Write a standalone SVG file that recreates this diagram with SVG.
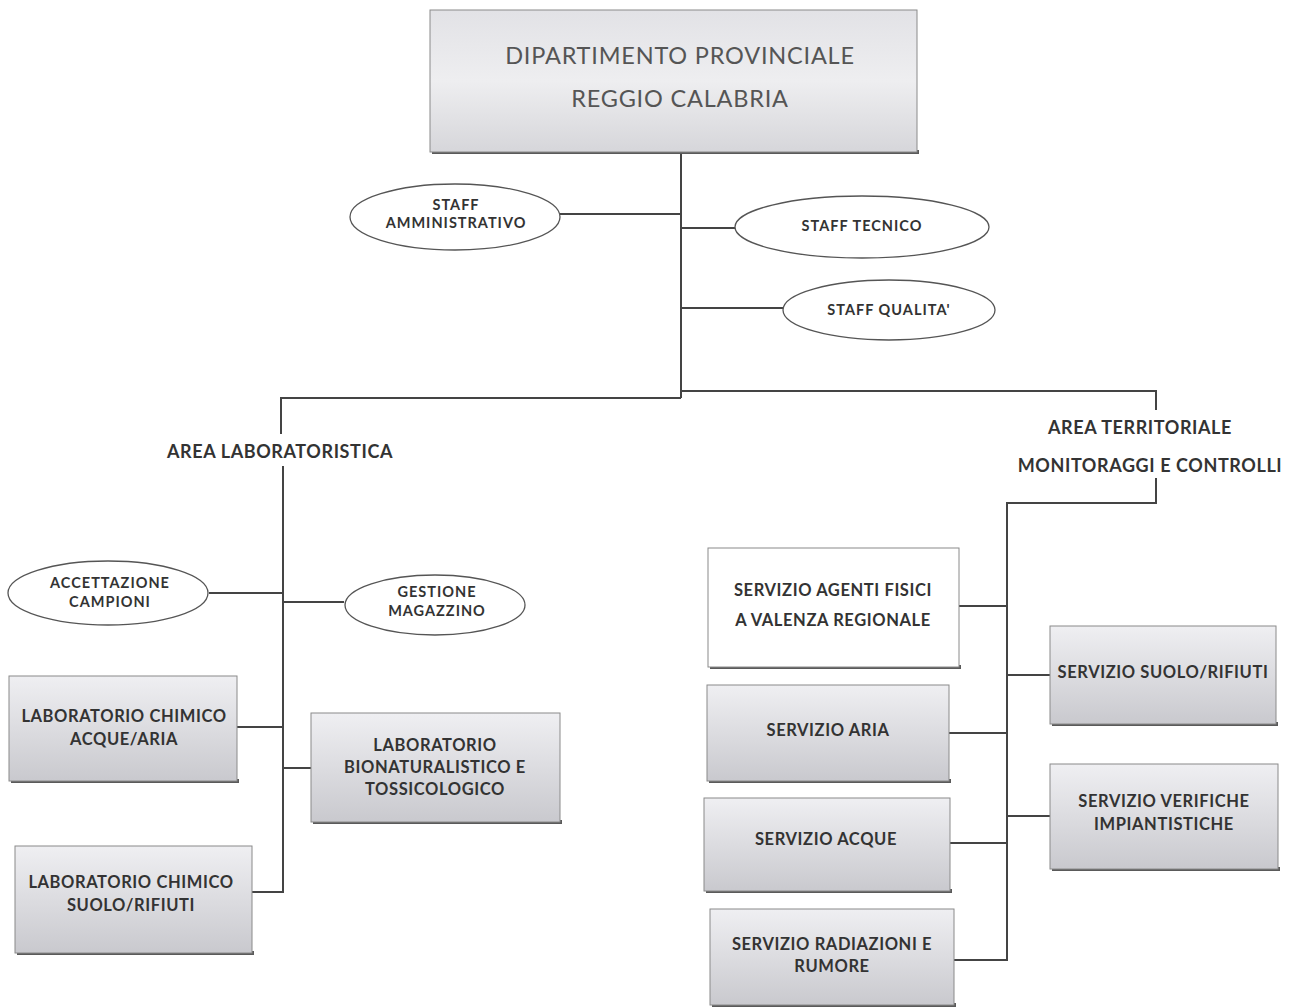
<svg xmlns="http://www.w3.org/2000/svg" width="1303" height="1008" viewBox="0 0 1303 1008">
<defs>
<linearGradient id="gbox" x1="0" y1="0" x2="0" y2="1">
<stop offset="0" stop-color="#efeff2"/>
<stop offset="1" stop-color="#c9c9ce"/>
</linearGradient>
<linearGradient id="gtop" x1="0" y1="0" x2="0" y2="1">
<stop offset="0" stop-color="#e2e2e6"/>
<stop offset="0.5" stop-color="#eeeef0"/>
<stop offset="1" stop-color="#d6d6da"/>
</linearGradient>
</defs>
<style>
.box{fill:url(#gbox);stroke:#8a8a8a;stroke-width:1}
.wbox{fill:#ffffff;stroke:#8a8a8a;stroke-width:1}
.shadow{fill:#5a5a5a}
.ell{fill:#ffffff;stroke:#555;stroke-width:1.3}
.t{font-family:Lato,"Open Sans","Liberation Sans",sans-serif;font-weight:bold;font-size:16.5px;letter-spacing:0.6px;fill:#333;text-anchor:middle}
.ts{font-family:Lato,"Open Sans","Liberation Sans",sans-serif;font-weight:bold;font-size:14.5px;letter-spacing:1px;fill:#333;text-anchor:middle}
.area{font-family:Lato,"Open Sans","Liberation Sans",sans-serif;font-weight:bold;font-size:18px;letter-spacing:0.6px;fill:#333;text-anchor:middle}
.title{font-family:Lato,"Open Sans","Liberation Sans",sans-serif;font-size:23.5px;letter-spacing:0.8px;fill:#555;text-anchor:middle}
.c{stroke:#444;stroke-width:2;fill:none}
</style>
<rect width="1303" height="1008" fill="#ffffff"/>

<g id="connectors">
<polyline class="c" points="681,152 681,398"/>
<polyline class="c" points="560,214 681,214"/>
<polyline class="c" points="681,228 735,228"/>
<polyline class="c" points="681,308 783,308"/>
<polyline class="c" points="681,398 281,398 281,434"/>
<polyline class="c" points="681,391 1156,391 1156,410"/>
<polyline class="c" points="1156,478 1156,503 1007,503 1007,960 954,960"/>
<polyline class="c" points="959,606 1007,606"/>
<polyline class="c" points="949,733 1007,733"/>
<polyline class="c" points="950,843 1007,843"/>
<polyline class="c" points="1007,675 1050,675"/>
<polyline class="c" points="1007,816 1050,816"/>
<polyline class="c" points="283,466 283,892 252,892"/>
<polyline class="c" points="209,593 283,593"/>
<polyline class="c" points="283,602 344,602"/>
<polyline class="c" points="237,727 283,727"/>
<polyline class="c" points="283,768 311,768"/>
</g>

<g id="dipartimento">
<rect class="shadow" x="432" y="150" width="487" height="4"/>
<rect x="430" y="10" width="487" height="142" fill="url(#gtop)" stroke="#8a8a8a"/>
<text class="title" x="680" y="64">DIPARTIMENTO PROVINCIALE</text>
<text class="title" x="680" y="107">REGGIO CALABRIA</text>
</g>

<g id="staff-amministrativo">
<ellipse class="ell" cx="455" cy="217" rx="105" ry="33"/>
<text class="ts" x="456" y="210">STAFF</text>
<text class="ts" x="456" y="228">AMMINISTRATIVO</text>
</g>
<g id="staff-tecnico">
<ellipse class="ell" cx="862" cy="227" rx="127" ry="31"/>
<text class="ts" x="862" y="231">STAFF TECNICO</text>
</g>
<g id="staff-qualita">
<ellipse class="ell" cx="889" cy="310" rx="106" ry="30"/>
<text class="ts" x="889" y="315">STAFF QUALITA'</text>
</g>

<g id="area-laboratoristica">
<text class="area" x="280" y="458">AREA LABORATORISTICA</text>
</g>
<g id="area-territoriale">
<text class="area" x="1140" y="434">AREA TERRITORIALE</text>
<text class="area" x="1150" y="472">MONITORAGGI E CONTROLLI</text>
</g>

<g id="accettazione">
<ellipse class="ell" cx="108" cy="593" rx="100" ry="32"/>
<text class="ts" x="110" y="588">ACCETTAZIONE</text>
<text class="ts" x="110" y="607">CAMPIONI</text>
</g>
<g id="gestione">
<ellipse class="ell" cx="435" cy="605" rx="90" ry="30"/>
<text class="ts" x="437" y="597">GESTIONE</text>
<text class="ts" x="437" y="616">MAGAZZINO</text>
</g>

<g id="lab-acque-aria">
<rect class="shadow" x="11" y="779" width="228" height="4"/>
<rect class="box" x="9" y="676" width="228" height="105"/>
<text class="t" x="124" y="722">LABORATORIO CHIMICO</text>
<text class="t" x="124" y="745">ACQUE/ARIA</text>
</g>
<g id="lab-bionaturalistico">
<rect class="shadow" x="313" y="820" width="249" height="4"/>
<rect class="box" x="311" y="713" width="249" height="109"/>
<text class="t" x="435" y="751">LABORATORIO</text>
<text class="t" x="435" y="773">BIONATURALISTICO E</text>
<text class="t" x="435" y="795">TOSSICOLOGICO</text>
</g>
<g id="lab-suolo-rifiuti">
<rect class="shadow" x="17" y="951" width="237" height="4"/>
<rect class="box" x="15" y="846" width="237" height="107"/>
<text class="t" x="131" y="888">LABORATORIO  CHIMICO</text>
<text class="t" x="131" y="911">SUOLO/RIFIUTI</text>
</g>

<g id="servizio-agenti-fisici">
<rect class="shadow" x="710" y="665" width="251" height="4"/>
<rect class="wbox" x="708" y="548" width="251" height="119"/>
<text class="t" x="833" y="596">SERVIZIO AGENTI FISICI</text>
<text class="t" x="833" y="626">A VALENZA REGIONALE</text>
</g>
<g id="servizio-aria">
<rect class="shadow" x="709" y="779" width="242" height="4"/>
<rect class="box" x="707" y="685" width="242" height="96"/>
<text class="t" x="828" y="736">SERVIZIO  ARIA</text>
</g>
<g id="servizio-acque">
<rect class="shadow" x="706" y="889" width="246" height="4"/>
<rect class="box" x="704" y="798" width="246" height="93"/>
<text class="t" x="826" y="845">SERVIZIO ACQUE</text>
</g>
<g id="servizio-radiazioni">
<rect class="shadow" x="712" y="1003" width="244" height="4"/>
<rect class="box" x="710" y="909" width="244" height="96"/>
<text class="t" x="832" y="950">SERVIZIO RADIAZIONI E</text>
<text class="t" x="832" y="972">RUMORE</text>
</g>
<g id="servizio-suolo-rifiuti">
<rect class="shadow" x="1052" y="722" width="226" height="4"/>
<rect class="box" x="1050" y="626" width="226" height="98"/>
<text class="t" x="1163" y="678">SERVIZIO SUOLO/RIFIUTI</text>
</g>
<g id="servizio-verifiche">
<rect class="shadow" x="1052" y="867" width="228" height="4"/>
<rect class="box" x="1050" y="764" width="228" height="105"/>
<text class="t" x="1164" y="807">SERVIZIO VERIFICHE</text>
<text class="t" x="1164" y="830">IMPIANTISTICHE</text>
</g>
</svg>
